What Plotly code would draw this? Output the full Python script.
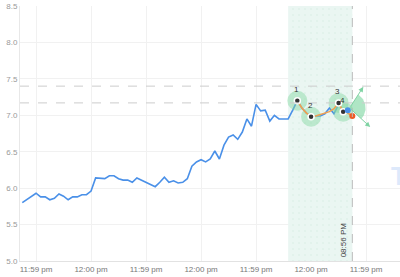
import numpy as np
import plotly.graph_objects as go

# ---- data ----
price = [5.80, 5.84, 5.88, 5.93, 5.88, 5.88, 5.84, 5.86, 5.92, 5.89,
         5.84, 5.88, 5.88, 5.91, 5.91, 5.96, 6.14, 6.13, 6.13, 6.17,
         6.17, 6.13, 6.11, 6.11, 6.08, 6.14, 6.11, 6.07, 6.04, 6.02,
         6.08, 6.15, 6.08, 6.10, 6.07, 6.08, 6.13, 6.30, 6.36, 6.39,
         6.36, 6.40, 6.51, 6.40, 6.59, 6.70, 6.73, 6.67, 6.77, 6.95,
         6.85, 7.15, 7.06, 7.07, 6.92, 7.00, 6.95, 6.95, 6.95, 7.07,
         7.20, 7.10, 7.03, 6.99, 6.99, 6.99, 7.02, 7.10, 7.02, 7.15,
         7.07, 7.07]
bar_index = list(range(len(price)))

proj_x = [60, 61, 62, 63, 64, 65, 66, 67, 68, 69, 70, 71, 72]
proj_y = [7.20, 7.10, 7.03, 6.98, 6.99, 7.01, 7.02, 7.05, 7.09, 7.17, 7.05, 7.03, 6.99]

pts_x = [60, 63, 69, 70]
pts_y = [7.20, 6.98, 7.17, 7.05]
pts_lab = ["1", "2", "3", "4"]

level_lines = [7.40, 7.17]
tick_vals = [3, 15, 27, 39, 51, 63, 75]
tick_text = ["11:59 pm", "12:00 pm", "11:59 pm", "12:00 pm", "11:59 pm", "12:00 pm", "11:59 pm"]
y_ticks = [5.0, 5.5, 6.0, 6.5, 7.0, 7.5, 8.0, 8.5]

region = [58, 72]
cursor_x = 72
cursor_label = "08:56 PM"
last_x, last_y = 71, 7.07
proj_last = (72, 6.99)

fan_center = (71.4, 7.10)
fan_tips = [(74.4, 7.39), (75.9, 6.84)]

XR = [-0.5, 82.4]
YR = [5.0, 8.5]
# pixels per unit (plot area 380 x 255)
PX = 380 / (XR[1] - XR[0])
PY = 255 / (YR[1] - YR[0])

fig = go.Figure()

# highlighted region with dotted pattern
fig.add_trace(go.Scatter(
    x=[region[0], region[1], region[1], region[0], region[0]],
    y=[YR[0], YR[0], YR[1], YR[1], YR[0]],
    mode="lines", line=dict(width=0), fill="toself",
    fillcolor="#e9f5f1",
    fillpattern=dict(shape=".", size=6, solidity=0.1, fgcolor="#d5e9e2", bgcolor="#eaf6f2"),
    hoverinfo="skip", showlegend=False))

fig.add_trace(go.Scatter(x=bar_index, y=price, mode="lines",
                         line=dict(color="#4a90e8", width=1.6), showlegend=False))

# fan wedge
cx, cy = fan_center
angs = [np.arctan2((t[1] - cy) * PY, (t[0] - cx) * PX) for t in fan_tips]
theta = np.linspace(angs[0], angs[1], 30)
r = 16
wx = [cx] + list(cx + r * np.cos(theta) / PX) + [cx]
wy = [cy] + list(cy + r * np.sin(theta) / PY) + [cy]
fig.add_trace(go.Scatter(x=wx, y=wy, mode="lines", fill="toself",
                         fillcolor="rgba(110,210,150,0.55)", line=dict(width=0),
                         hoverinfo="skip", showlegend=False))

# point halos
fig.add_trace(go.Scatter(x=pts_x, y=pts_y, mode="markers",
                         marker=dict(size=20, color="rgba(130,215,160,0.45)", line=dict(width=0)),
                         showlegend=False, hoverinfo="skip"))

fig.add_trace(go.Scatter(x=proj_x, y=proj_y, mode="lines",
                         line=dict(color="#f0a050", width=1.6), showlegend=False))

fig.add_trace(go.Scatter(x=pts_x, y=pts_y, mode="markers",
                         marker=dict(size=6, color="#333333", line=dict(width=1.5, color="white")),
                         showlegend=False))

fig.add_trace(go.Scatter(x=[last_x], y=[last_y], mode="markers",
                         marker=dict(size=6, color="#4a90e8"), showlegend=False))
fig.add_trace(go.Scatter(x=[proj_last[0]], y=[proj_last[1]], mode="markers",
                         marker=dict(size=6, color="#ee5a24"), showlegend=False))

for lab, px_, py_ in zip(pts_lab, pts_x, pts_y):
    fig.add_annotation(x=px_, y=py_, text=lab, showarrow=False, yshift=11, xshift=-1,
                       font=dict(size=8, color="#333", family="Liberation Sans"))

for t in fan_tips:
    fig.add_annotation(x=t[0], y=t[1], ax=cx, ay=cy, xref="x", yref="y", axref="x", ayref="y",
                       showarrow=True, arrowhead=2, arrowsize=1, arrowwidth=1,
                       arrowcolor="#7fd3a3", text="")

for lv in level_lines:
    fig.add_shape(type="line", xref="paper", x0=0, x1=1, y0=lv, y1=lv,
                  line=dict(color="#cccccc", width=1, dash="dash"))

fig.add_shape(type="line", x0=cursor_x, x1=cursor_x, yref="paper", y0=0, y1=1,
              line=dict(color="#bbbbbb", width=1, dash="dash"))
fig.add_annotation(x=cursor_x, y=YR[0], yref="y", text=cursor_label, textangle=-90,
                   showarrow=False, xanchor="right", yanchor="bottom", xshift=-2, yshift=2,
                   font=dict(size=8, color="#444", family="Liberation Sans"))

fig.add_annotation(xref="paper", yref="paper", x=369 / 380, y=(261 - 176) / 255,
                   text="<b>T</b>", showarrow=False, xanchor="left", yanchor="middle",
                   font=dict(size=26, color="#dde9fb", family="Liberation Sans"))

fig.update_layout(
    width=400, height=277, margin=dict(l=20, r=0, t=6, b=16),
    paper_bgcolor="white", plot_bgcolor="white",
    xaxis=dict(range=XR, tickvals=tick_vals, ticktext=tick_text, showgrid=True,
               gridcolor="#f1f1f1", gridwidth=1, zeroline=False, showline=True,
               linecolor="#e2e2e2", ticks="", tickfont=dict(size=8, color="#777", family="Liberation Sans")),
    yaxis=dict(range=YR, tickvals=y_ticks, tickformat=".1f", showgrid=True,
               gridcolor="#f1f1f1", zeroline=False, showline=True, linecolor="#e8e8e8",
               ticks="", tickfont=dict(size=8, color="#999", family="Liberation Sans")),
)

fig.write_html("out.html")
